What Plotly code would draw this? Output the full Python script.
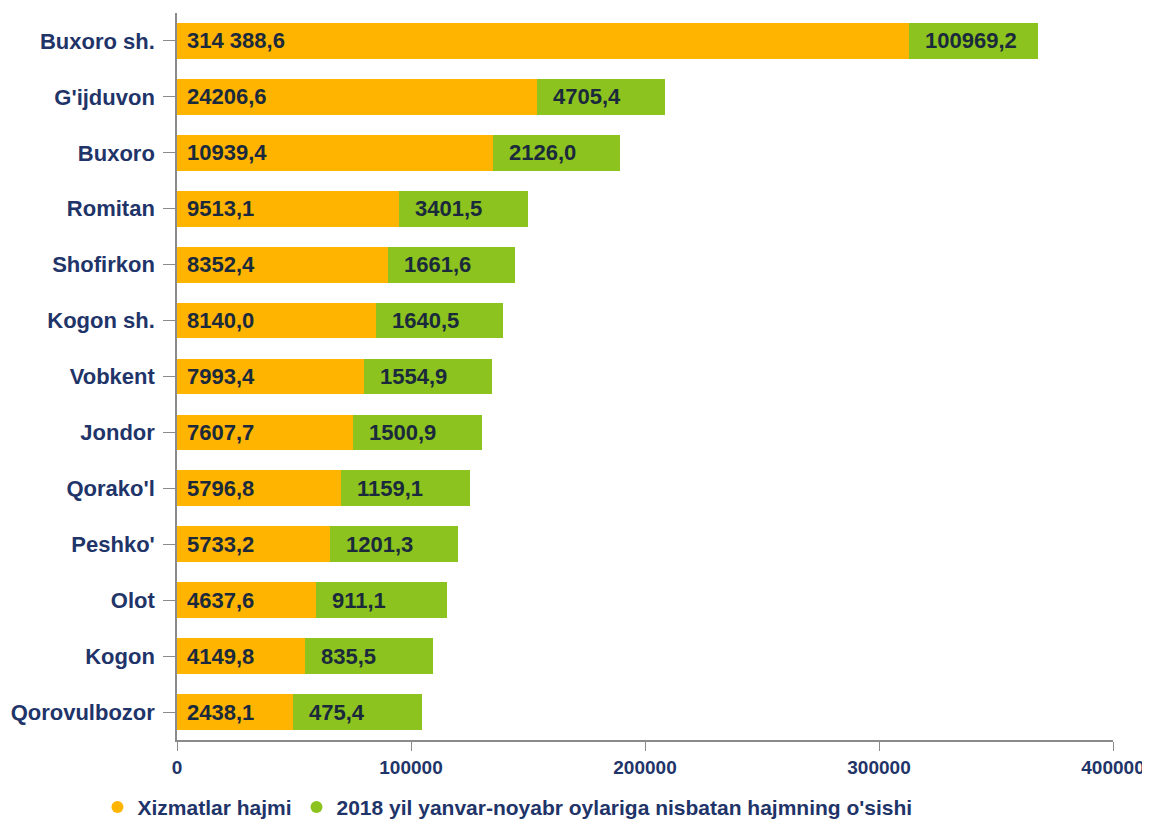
import plotly.graph_objects as go

categories = ["Buxoro sh.", "G'ijduvon", "Buxoro", "Romitan", "Shofirkon", "Kogon sh.",
              "Vobkent", "Jondor", "Qorako'l", "Peshko'", "Olot", "Kogon", "Qorovulbozor"]
# bar lengths as drawn
orange_len = [313000, 154000, 135000, 95000, 90000, 85000, 80000, 75000, 70000, 65500, 59500, 54500, 49500]
green_len = [55000, 54500, 54500, 54800, 54500, 54500, 54800, 55300, 55300, 54500, 55700, 54800, 55300]
# printed labels
orange_lbl = ["314 388,6", "24206,6", "10939,4", "9513,1", "8352,4", "8140,0", "7993,4",
              "7607,7", "5796,8", "5733,2", "4637,6", "4149,8", "2438,1"]
green_lbl = ["100969,2", "4705,4", "2126,0", "3401,5", "1661,6", "1640,5", "1554,9",
             "1500,9", "1159,1", "1201,3", "911,1", "835,5", "475,4"]
series_names = ["Xizmatlar hajmi", "2018 yil yanvar-noyabr oylariga nisbatan hajmning o'sishi"]
x_ticks = [0, 100000, 200000, 300000, 400000]

ORANGE = "#FFB400"
GREEN = "#8CC31E"
NAVY = "#1F3468"
LBL = "#1A2A3C"
FONT = "Liberation Sans"

fig = go.Figure()
fig.add_trace(go.Bar(y=categories, x=orange_len, orientation="h", marker_color=ORANGE,
                     marker_line_width=0, showlegend=False, hoverinfo="skip"))
fig.add_trace(go.Bar(y=categories, x=green_len, orientation="h", marker_color=GREEN,
                     marker_line_width=0, showlegend=False, hoverinfo="skip"))
# legend entries with round markers
for name, col in zip(series_names, [ORANGE, GREEN]):
    fig.add_trace(go.Scatter(x=[None], y=[None], mode="markers", name=name,
                             marker=dict(color=col, size=12, symbol="circle")))

for cat, o, lo, lg in zip(categories, orange_len, orange_lbl, green_lbl):
    fig.add_annotation(x=0, y=cat, text=f"<b>{lo}</b>", showarrow=False, xanchor="left",
                       xshift=8, font=dict(family=FONT, size=22, color=LBL))
    fig.add_annotation(x=o, y=cat, text=f"<b>{lg}</b>", showarrow=False, xanchor="left",
                       xshift=14, font=dict(family=FONT, size=22, color=LBL))

fig.update_layout(
    width=1142, height=825,
    barmode="stack", bargap=0.36,
    plot_bgcolor="white", paper_bgcolor="white",
    margin=dict(l=169, r=37, t=5, b=90),
    font=dict(family=FONT, color=NAVY),
    legend=dict(orientation="h", traceorder="normal", x=-0.085, xanchor="left", y=-0.121, yanchor="bottom",
                font=dict(family=FONT, size=21, color=NAVY, weight="bold"),
                itemwidth=30, tracegroupgap=0),
    xaxis=dict(range=[0, 400000], tickvals=x_ticks, ticktext=[str(v) for v in x_ticks],
               automargin=False,
               showgrid=False, zeroline=False, showline=True, linecolor="#8a8a8a", linewidth=1.5,
               ticks="outside", ticklen=9, tickcolor="#8a8a8a",
               tickfont=dict(family=FONT, size=19, color=NAVY, weight="bold")),
    yaxis=dict(autorange="reversed", automargin=False, showgrid=False, zeroline=False, showline=True,
               linecolor="#8a8a8a", linewidth=1.5, ticks="outside", ticklen=12, tickcolor="#8a8a8a",
               ticklabelstandoff=4,
               tickfont=dict(family=FONT, size=22, color=NAVY, weight="bold")),
)

fig.write_html("out.html")
